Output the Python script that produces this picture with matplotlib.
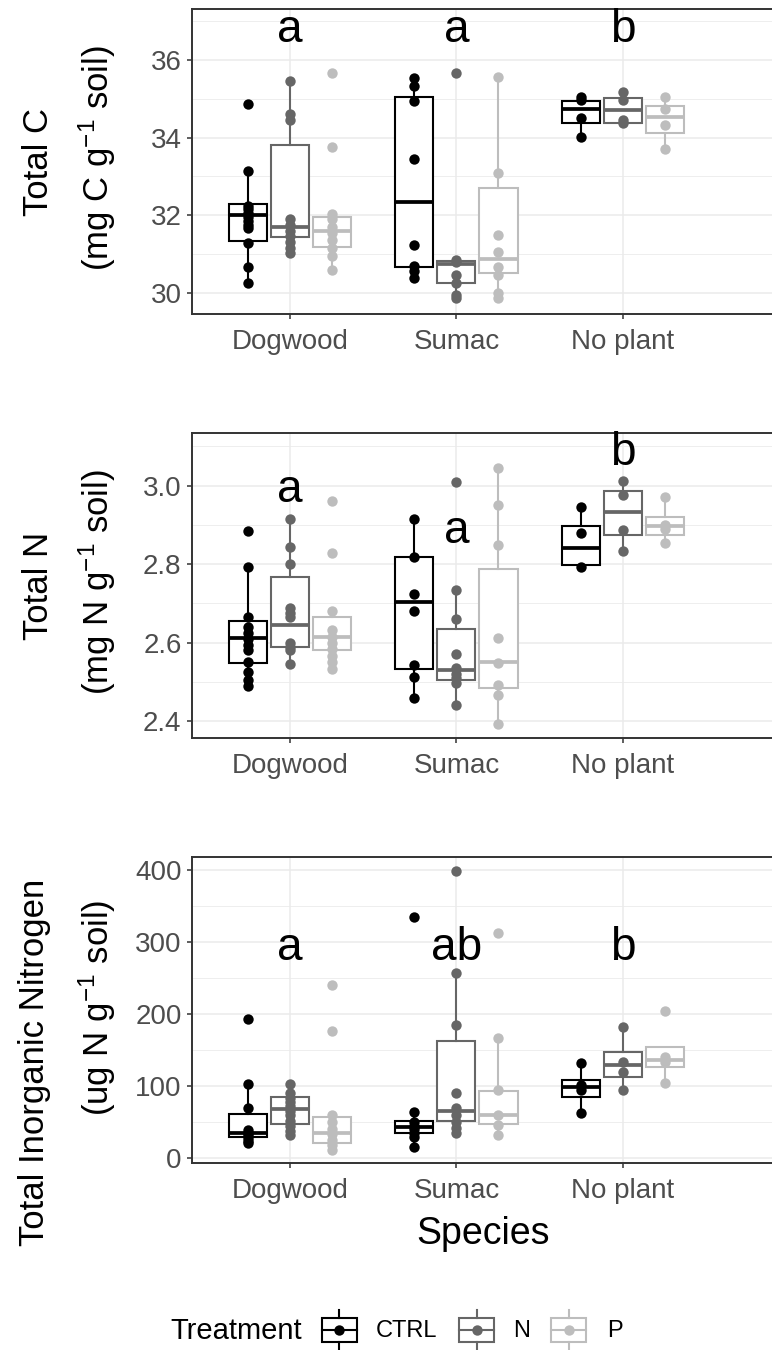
import numpy as np
import matplotlib
matplotlib.use("Agg")
import matplotlib.pyplot as plt
from matplotlib.patches import Rectangle

plt.rcParams["font.family"] = ["Liberation Sans", "DejaVu Sans"]
plt.rcParams["mathtext.fontset"] = "custom"
plt.rcParams["mathtext.rm"] = "Liberation Sans"
plt.rcParams["mathtext.it"] = "Liberation Sans"

SPECIES = ["Dogwood", "Sumac", "No plant"]
TREATMENTS = ["CTRL", "N", "P"]
COLORS = ["#000000", "#666666", "#BDBDBD"]

# raw points, one list per species (Dogwood, Sumac, No plant)
C_PTS_CTRL = [[34.86, 33.14, 32.24, 32.15, 32.05, 31.95, 31.85, 31.75, 31.66, 31.27, 30.65, 30.26],
              [35.55, 35.33, 34.94, 33.46, 31.24, 30.69, 30.55, 30.38],
              [35.04, 34.96, 34.50, 34.02]]
C_PTS_N = [[35.47, 34.60, 34.45, 31.91, 31.75, 31.60, 31.45, 31.30, 31.15, 31.03],
           [35.67, 30.84, 30.78, 30.45, 30.24, 29.95, 29.85],
           [35.18, 34.97, 34.45, 34.37]]
C_PTS_P = [[35.67, 33.76, 32.04, 31.90, 31.70, 31.55, 31.35, 31.15, 30.95, 30.58],
           [35.57, 33.08, 31.50, 31.04, 30.67, 30.45, 29.98, 29.85],
           [35.04, 34.75, 34.33, 33.70]]
# box stats: (whisker low, q1, median, q3, whisker high)
C_BOX_CTRL = [(30.26, 31.33, 32.00, 32.28, 33.14), (30.38, 30.67, 32.34, 35.04, 35.55),
              (34.02, 34.38, 34.73, 34.95, 35.04)]
C_BOX_N = [(31.03, 31.43, 31.69, 33.81, 35.47), (29.85, 30.24, 30.75, 30.81, 30.84),
           (34.37, 34.37, 34.71, 35.01, 35.18)]
C_BOX_P = [(30.58, 31.18, 31.59, 31.96, 32.04), (29.85, 30.50, 30.86, 32.69, 35.57),
           (33.70, 34.12, 34.54, 34.81, 35.04)]

N_PTS_CTRL = [[2.885, 2.794, 2.666, 2.640, 2.625, 2.610, 2.595, 2.580, 2.550, 2.525, 2.505, 2.490],
              [2.915, 2.819, 2.724, 2.681, 2.543, 2.513, 2.458],
              [2.946, 2.879, 2.794]]
N_PTS_N = [[2.915, 2.843, 2.800, 2.688, 2.676, 2.666, 2.600, 2.590, 2.580, 2.545],
           [3.009, 2.734, 2.660, 2.571, 2.535, 2.520, 2.510, 2.497, 2.441],
           [3.013, 2.976, 2.887, 2.834]]
N_PTS_P = [[2.962, 2.829, 2.681, 2.632, 2.615, 2.600, 2.585, 2.565, 2.550, 2.532],
           [3.044, 2.951, 2.849, 2.611, 2.549, 2.492, 2.467, 2.393],
           [2.972, 2.900, 2.890, 2.853]]
N_BOX_CTRL = [(2.488, 2.549, 2.613, 2.655, 2.794), (2.458, 2.533, 2.703, 2.819, 2.915),
              (2.794, 2.798, 2.842, 2.896, 2.946)]
N_BOX_N = [(2.545, 2.590, 2.645, 2.768, 2.915), (2.441, 2.505, 2.530, 2.635, 2.734),
           (2.834, 2.874, 2.934, 2.987, 3.013)]
N_BOX_P = [(2.532, 2.580, 2.614, 2.666, 2.681), (2.393, 2.484, 2.550, 2.788, 3.044),
           (2.853, 2.874, 2.896, 2.921, 2.972)]

TIN_PTS_CTRL = [[192.7, 102.7, 69.2, 39.0, 35.0, 32.0, 28.0, 24.0, 20.8],
                [334.6, 64.5, 50.0, 45.0, 40.0, 35.0, 30.0, 16.0],
                [131.6, 101.0, 94.6, 62.3]]
TIN_PTS_N = [[102.9, 90.0, 84.0, 78.0, 72.0, 66.0, 60.0, 52.0, 45.0, 38.0, 32.3],
             [398.4, 257.0, 184.6, 90.9, 69.2, 60.0, 50.0, 42.0, 34.6],
             [182.3, 133.8, 120.0, 94.6]]
TIN_PTS_P = [[240.0, 176.3, 60.0, 50.0, 40.0, 33.0, 25.0, 18.0, 11.5],
             [312.5, 166.2, 94.6, 60.0, 46.0, 32.3],
             [204.4, 140.0, 134.0, 104.7]]
TIN_BOX_CTRL = [(20.8, 30.0, 34.6, 61.0, 102.7), (16.0, 35.5, 43.8, 51.7, 64.5),
                (62.3, 85.3, 98.3, 108.4, 131.6)]
TIN_BOX_N = [(32.3, 47.0, 68.3, 85.3, 102.9), (34.6, 52.1, 65.5, 162.9, 257.0),
             (94.6, 113.0, 129.2, 146.8, 182.3)]
TIN_BOX_P = [(11.5, 20.8, 34.6, 57.6, 60.0), (32.3, 47.0, 60.0, 93.6, 166.2),
             (104.7, 126.9, 137.0, 153.7, 153.7)]

C_LETTERS = ["a", "a", "b"]
C_LETTER_Y = [36.47, 36.47, 36.47]
N_LETTERS = ["a", "a", "b"]
N_LETTER_Y = [2.959, 2.855, 3.053]
TIN_LETTERS = ["a", "ab", "b"]
TIN_LETTER_Y = [274.6, 274.6, 274.6]

W, H = 772, 1350
fig = plt.figure(figsize=(W / 100, H / 100), dpi=100)

GRID = "#EBEBEB"
BORDER = "#333333"
TICKTXT = "#4D4D4D"


def add_panel(top, bottom):
    left, right = 192, 774
    return fig.add_axes([left / W, 1 - bottom / H, (right - left) / W, (bottom - top) / H])


def draw_panel(ax, pts, boxes, ylim, majors, minors, letters, letter_y):
    offsets = [-0.253, 0.0, 0.253]
    for k, (tp, tb, col) in enumerate(zip(pts, boxes, COLORS)):
        stats = []
        for lo, q1, med, q3, hi in tb:
            stats.append(dict(whislo=lo, q1=q1, med=med, q3=q3, whishi=hi, fliers=[]))
        pos = [i + 1 + offsets[k] for i in range(3)]
        ax.bxp(stats, positions=pos, widths=0.229, showfliers=False, showcaps=False,
               patch_artist=True, manage_ticks=False,
               boxprops=dict(facecolor="white", edgecolor=col, linewidth=1.5),
               whiskerprops=dict(color=col, linewidth=1.5),
               medianprops=dict(color=col, linewidth=2.7, solid_capstyle="butt"),
               zorder=2)
        for i, vals in enumerate(tp):
            ax.scatter(np.full(len(vals), pos[i]), vals, s=56, color=col,
                       linewidths=0, zorder=4)
    for i, (lab, y) in enumerate(zip(letters, letter_y)):
        ax.text(i + 1, y, lab, ha="center", va="baseline", fontsize=33, color="black", zorder=5)

    ax.set_xlim(0.41, 3.91)
    ax.set_ylim(*ylim)
    ax.set_yticks(majors)
    ax.set_yticks(minors, minor=True)
    ax.set_xticks([1, 2, 3])
    ax.set_xticklabels(SPECIES)
    ax.grid(which="major", color=GRID, linewidth=1.1)
    ax.grid(which="minor", axis="y", color=GRID, linewidth=0.6)
    ax.set_axisbelow(True)
    for s in ax.spines.values():
        s.set_color(BORDER)
        s.set_linewidth(1.4)
    ax.tick_params(which="major", length=3.5, width=1.1, color=BORDER,
                   labelsize=20, labelcolor=TICKTXT, pad=4)
    ax.tick_params(axis="x", pad=7)
    ax.tick_params(which="minor", length=0)


ax1 = add_panel(9.3, 314)
draw_panel(ax1, [C_PTS_CTRL, C_PTS_N, C_PTS_P], [C_BOX_CTRL, C_BOX_N, C_BOX_P],
           (29.45, 37.31), [30, 32, 34, 36], [31, 33, 35, 37], C_LETTERS, C_LETTER_Y)
ax1.set_yticklabels(["30", "32", "34", "36"])

ax2 = add_panel(432.7, 738)
draw_panel(ax2, [N_PTS_CTRL, N_PTS_N, N_PTS_P], [N_BOX_CTRL, N_BOX_N, N_BOX_P],
           (2.357, 3.135), [2.4, 2.6, 2.8, 3.0], [2.5, 2.7, 2.9, 3.1], N_LETTERS, N_LETTER_Y)
ax2.set_yticklabels(["2.4", "2.6", "2.8", "3.0"])

ax3 = add_panel(857.3, 1163.3)
draw_panel(ax3, [TIN_PTS_CTRL, TIN_PTS_N, TIN_PTS_P], [TIN_BOX_CTRL, TIN_BOX_N, TIN_BOX_P],
           (-7.0, 417.6), [0, 100, 200, 300, 400], [50, 150, 250, 350], TIN_LETTERS, TIN_LETTER_Y)
ax3.set_xlabel("Species", fontsize=27, color="black", labelpad=9)

# y-axis titles (two lines each): (line 1, line 2, y centre 1, y centre 2, x of line 1)
ylab = [("Total C", r"(mg C g$^{-1}$ soil)", 161.7, 158.0, 38),
        ("Total N", r"(mg N g$^{-1}$ soil)", 585.4, 582.0, 38),
        ("Total Inorganic Nitrogen", r"(ug N g$^{-1}$ soil)", 1062.0, 1008.0, 35)]
for l1, l2, yc1, yc2, x1 in ylab:
    fig.text(x1 / W, 1 - yc1 / H, l1, rotation=90, ha="center", va="center", fontsize=25)
    fig.text(97 / W, 1 - yc2 / H, l2, rotation=90, ha="center", va="center", fontsize=25)

# legend drawn in pixel coordinates
lg = fig.add_axes([0, 0, 1, 1], zorder=-1)
lg.set_xlim(0, W)
lg.set_ylim(H, 0)
lg.axis("off")
lg.text(170, 1331, "Treatment", ha="left", va="center", fontsize=21, color="black")
key_x = [339, 476.5, 568.5]
lab_x = [376, 513, 607]
for kx, tx, col, name in zip(key_x, lab_x, COLORS, TREATMENTS):
    lg.add_patch(Rectangle((kx - 17.5, 1318.3), 35, 23.4, facecolor="white",
                           edgecolor=col, linewidth=1.5))
    lg.plot([kx, kx], [1310, 1318.3], color=col, lw=1.5)
    lg.plot([kx, kx], [1341.7, 1352], color=col, lw=1.5)
    lg.plot([kx - 17.5, kx + 17.5], [1330, 1330], color=col, lw=1.5)
    lg.scatter([kx], [1330], s=56, color=col, linewidths=0, zorder=3)
    lg.text(tx, 1331, name, ha="left", va="center", fontsize=17, color="black")

fig.savefig("out.png", dpi=100)
